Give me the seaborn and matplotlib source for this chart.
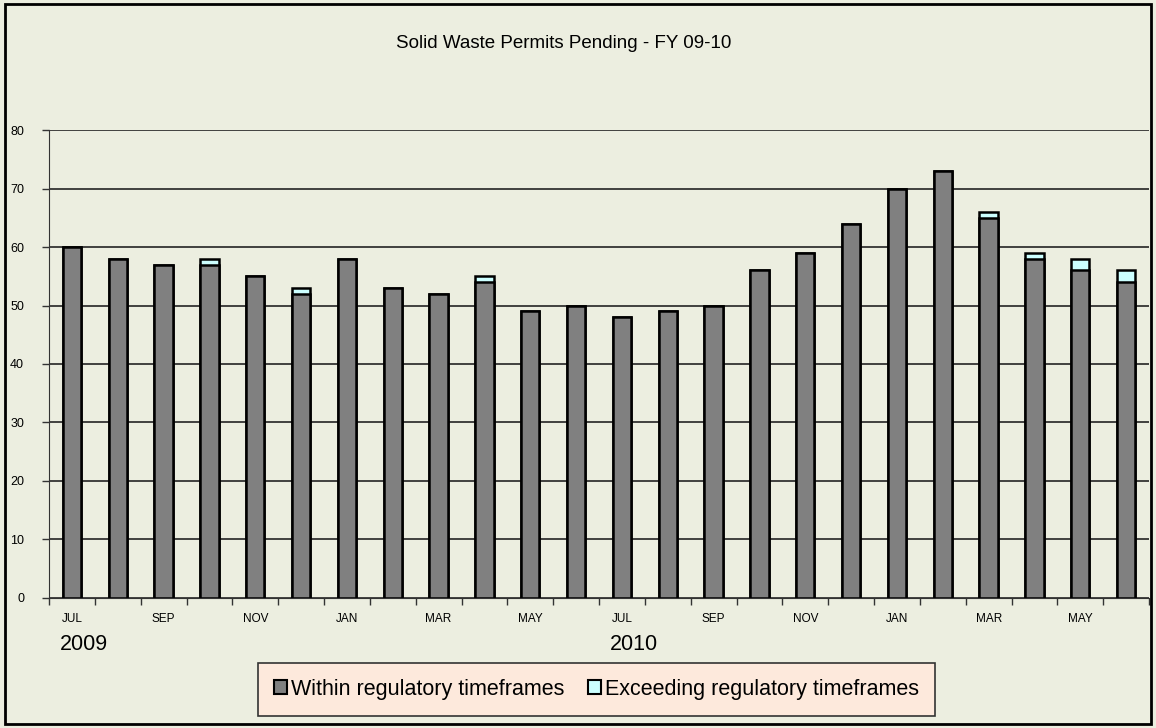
import pandas as pd
import seaborn as sns
import matplotlib.pyplot as plt
from matplotlib.patches import Rectangle, Patch

# Data (Jul 2009 - Jun 2011)
months = ["JUL", "AUG", "SEP", "OCT", "NOV", "DEC", "JAN", "FEB", "MAR", "APR", "MAY", "JUN",
          "JUL", "AUG", "SEP", "OCT", "NOV", "DEC", "JAN", "FEB", "MAR", "APR", "MAY", "JUN"]
within = [60, 58, 57, 57, 55, 52, 58, 53, 52, 54, 49, 50,
          48, 49, 50, 56, 59, 64, 70, 73, 65, 58, 56, 54]
exceeding = [0, 0, 0, 1, 0, 1, 0, 0, 0, 1, 0, 0,
             0, 0, 0, 0, 0, 0, 0, 0, 1, 1, 2, 2]
years = ["2009", "2010"]

df = pd.DataFrame({
    "pos": range(len(months)),
    "within": within,
    "total": [w + e for w, e in zip(within, exceeding)],
})

bg = "#ECEEE0"
plt.rcParams["font.family"] = ["Liberation Sans", "DejaVu Sans"]

fig = plt.figure(figsize=(11.56, 7.28), dpi=100, facecolor=bg)
ax = fig.add_axes([0.0424, 0.1786, 0.9516, 0.6428])
ax.set_facecolor(bg)

# stacked bars: total in cyan, within drawn over it in gray
sns.barplot(data=df, x="pos", y="total", color="#CCFFFF", width=0.4,
            edgecolor="black", linewidth=1.8, saturation=1, ax=ax)
sns.barplot(data=df, x="pos", y="within", color="#808080", width=0.4,
            edgecolor="black", linewidth=1.8, saturation=1, ax=ax)

ax.set_xlim(-0.5, len(months) - 0.5)
ax.set_ylim(0, 80)
ax.set_yticks(range(0, 81, 10))
ax.yaxis.grid(True, color="#333333", linewidth=1.3)
ax.set_axisbelow(True)
for s in ["top", "right"]:
    ax.spines[s].set_visible(False)
ax.spines["left"].set_color("#333333")
ax.spines["bottom"].set_color("#333333")
ax.tick_params(axis="y", length=5, width=1, labelsize=9, pad=13, color="#333333")

# month labels every two months, tick marks between categories
ax.set_xticks(range(0, len(months), 2))
ax.set_xticklabels(months[::2], fontsize=8.5)
ax.set_xticks([i - 0.5 for i in range(len(months) + 1)], minor=True)
ax.tick_params(axis="x", which="major", length=0, pad=11)
ax.tick_params(axis="x", which="minor", length=5, width=1, color="#333333")
ax.set_xlabel("")
ax.set_ylabel("")

for i, yr in enumerate(years):
    ax.text(i * 12 - 0.27, -0.1, yr, transform=ax.get_xaxis_transform(),
            fontsize=15.5, ha="left", va="center")

fig.text(0.488, 0.94, "Solid Waste Permits Pending - FY 09-10",
         fontsize=13.5, ha="center", va="center")

handles = [Patch(facecolor="#808080", edgecolor="black", linewidth=1.5),
           Patch(facecolor="#CCFFFF", edgecolor="black", linewidth=1.5)]
leg = fig.legend(handles, ["Within regulatory timeframes", "Exceeding regulatory timeframes"],
                 loc="center", bbox_to_anchor=(0.516, 0.053), ncol=2, fontsize=15.5,
                 frameon=True, fancybox=False, facecolor="#FDE9DC", edgecolor="#333333",
                 handlelength=0.6, handleheight=0.6, handletextpad=0.2, columnspacing=1.1,
                 borderpad=0.75)
leg.get_frame().set_linewidth(1.2)
leg.get_frame().set_alpha(1)

fig.patches.append(Rectangle((0.004, 0.005), 0.992, 0.99, transform=fig.transFigure,
                             fill=False, edgecolor="black", linewidth=2))

fig.savefig("out.png", dpi=100, facecolor=bg)
